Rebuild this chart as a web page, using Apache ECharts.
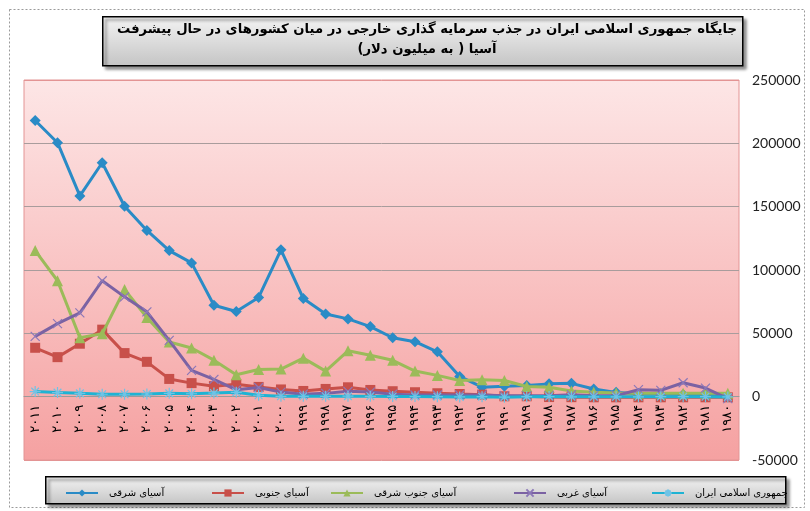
<!DOCTYPE html>
<html>
<head>
<meta charset="utf-8">
<script src="https://cdn.jsdelivr.net/npm/echarts@6/dist/echarts.min.js"></script>
<style>
html,body{margin:0;padding:0;background:#fff;}
#chart{width:810px;height:511px;}
</style>
</head>
<body>
<div id="chart"></div>
<script>
// Categories (years, Persian digits) 2011 -> 1980
var years = ["۲۰۱۱","۲۰۱۰","۲۰۰۹","۲۰۰۸","۲۰۰۷","۲۰۰۶","۲۰۰۵","۲۰۰۴","۲۰۰۳","۲۰۰۲","۲۰۰۱","۲۰۰۰",
             "۱۹۹۹","۱۹۹۸","۱۹۹۷","۱۹۹۶","۱۹۹۵","۱۹۹۴","۱۹۹۳","۱۹۹۲","۱۹۹۱","۱۹۹۰",
             "۱۹۸۹","۱۹۸۸","۱۹۸۷","۱۹۸۶","۱۹۸۵","۱۹۸۴","۱۹۸۳","۱۹۸۲","۱۹۸۱","۱۹۸۰"];

var seriesNames = ["آسیای شرقی","آسیای جنوبی","آسیای جنوب شرقی","آسیای غربی","جمهوری اسلامی ایران"];

var eastAsia = [218000,200500,158500,184700,150300,131200,115300,105600,72200,67200,78300,115900,
                77500,65200,61400,55300,46500,43400,35400,16000,7500,8200,
                8800,10100,10500,6000,3400,2100,2100,1800,1800,0];
var southAsia = [38600,31200,41800,52900,34400,27500,14000,10700,8300,9800,7700,5700,
                 4500,6100,7400,5300,4300,3500,2700,2100,1600,300,
                 300,-300,-400,-500,-500,-500,-500,-500,-500,-500];
var southEastAsia = [115300,91500,46600,49700,84700,62500,43100,38400,28800,17300,21400,21800,
                     30400,20200,36200,32700,28700,20200,16800,12800,13300,12800,
                     8000,7400,4500,3500,2800,2700,2700,2700,2700,2700];
var westAsia = [47600,57700,66100,91500,78800,67000,44400,20700,13600,5400,7200,3600,
                2000,2600,4200,3600,2000,1300,1300,1300,1300,800,
                800,800,1500,800,800,5500,5000,11000,6800,-1500];
var iran = [4000,3200,2600,1900,1900,2100,2600,2300,2800,3400,1100,300,
            300,300,400,300,200,100,0,-200,0,-400,
            0,100,-100,-100,-100,-100,0,0,0,-200];

var yTicks = {min:-50000, max:250000, step:50000};

var colors = ['#2a8bc6','#c8504a','#9bbb59','#7b62a3','#1fb3d3'];
var symbols = [
  'diamond','rect','triangle',
  'path://M0,0L10,10M10,0L0,10',
  'path://M5,0L5,10M0,5L10,5M1.5,1.5L8.5,8.5M8.5,1.5L1.5,8.5'
];
var symbolSizes = [11,10,11,9,11];
var symbolColors = ['#2a8bc6','#c8504a','#9bbb59','#8c78b8','#6fc3e6'];
var allData = [eastAsia, southAsia, southEastAsia, westAsia, iran];

var chart = echarts.init(document.getElementById('chart'), null, {renderer:'canvas'});

var series = allData.map(function(d, i){
  var stroke = i >= 3;
  return {
    name: seriesNames[i],
    type: 'line',
    data: d,
    symbol: symbols[i],
    symbolSize: symbolSizes[i],
    showAllSymbol: true,
    animation: false,
    lineStyle: {color: colors[i], width: 3},
    itemStyle: stroke ? {color: symbolColors[i], borderColor: symbolColors[i], borderWidth: 1.2}
                      : {color: symbolColors[i], borderWidth: 0},
    emphasis: {disabled: true},
    z: 2 + i
  };
});

var legendPos = [60, 206, 325, 508, 646];
var legends = seriesNames.map(function(n, i){
  return {
    data: [n],
    left: legendPos[i],
    top: 483,
    itemWidth: 32,
    itemHeight: 9,
    textStyle: {fontFamily:'DejaVu Sans', fontSize: 10, color:'#000', padding:[0,0,0,6]},
    selectedMode: false
  };
});

var grayGrad = new echarts.graphic.LinearGradient(0,0,0,1,[
  {offset:0,color:'#f4f4f4'},{offset:1,color:'#c4c4c4'}]);

chart.setOption({
  backgroundColor: '#fff',
  animation: false,
  color: colors,
  title: {
    text: 'جایگاه جمهوری اسلامی ایران در جذب سرمایه گذاری خارجی در میان کشورهای در حال پیشرفت\nآسیا ( به میلیون دلار)',
    left: 422,
    top: 15,
    textAlign: 'center',
    textStyle: {fontFamily:'DejaVu Sans', fontSize: 13.2, fontWeight:'bold', color:'#000', lineHeight: 20}
  },
  graphic: [
    {type:'rect', left: 7, top: 7, shape:{width:795, height:498},
     style:{fill:'none', stroke:'#9a9a9a', lineWidth:1, lineDash:[2,2]}, z:-10},
    {type:'rect', left: 102, top: 16, shape:{width:640, height:49},
     style:{fill:grayGrad, stroke:'#000', lineWidth:1.5, shadowBlur:3, shadowOffsetX:3, shadowOffsetY:3, shadowColor:'rgba(0,0,0,0.45)'}, z:-1},
    {type:'rect', left: 45, top: 476, shape:{width:740, height:27},
     style:{fill:grayGrad, stroke:'#000', lineWidth:1.5, shadowBlur:3, shadowOffsetX:3, shadowOffsetY:3, shadowColor:'rgba(0,0,0,0.45)'}, z:-1}
  ],
  legend: legends,
  grid: {
    left: 24, right: 71, top: 80, bottom: 51,
    show: true,
    borderColor: '#e39494',
    borderWidth: 1,
    backgroundColor: new echarts.graphic.LinearGradient(0,0,0,1,[
      {offset:0,color:'#fde6e6'},{offset:1,color:'#f5a1a1'}])
  },
  xAxis: {
    type: 'category',
    data: years,
    boundaryGap: true,
    offset: -63.3,
    axisLine: {onZero: false, lineStyle:{color:'#9a9a9a', width:1}},
    axisTick: {show: false},
    axisLabel: {interval:0, rotate: 90, fontFamily:'DejaVu Sans', fontSize: 13, color:'#000', margin: 8},
    splitLine: {show:false}
  },
  yAxis: {
    type: 'value',
    position: 'right',
    min: yTicks.min, max: yTicks.max, interval: yTicks.step,
    axisLine: {show:false},
    axisTick: {show:false},
    axisLabel: {fontFamily:'Lato', fontSize: 14, color:'#222', margin: 13,
                formatter: function(v){ return String(v); }},
    splitLine: {show:true, lineStyle:{color:['#e39494','#a89c9c','#a89c9c','#a89c9c','#a89c9c','#a89c9c','#e39494'], width:1}}
  },
  series: series
});
</script>
</body>
</html>
